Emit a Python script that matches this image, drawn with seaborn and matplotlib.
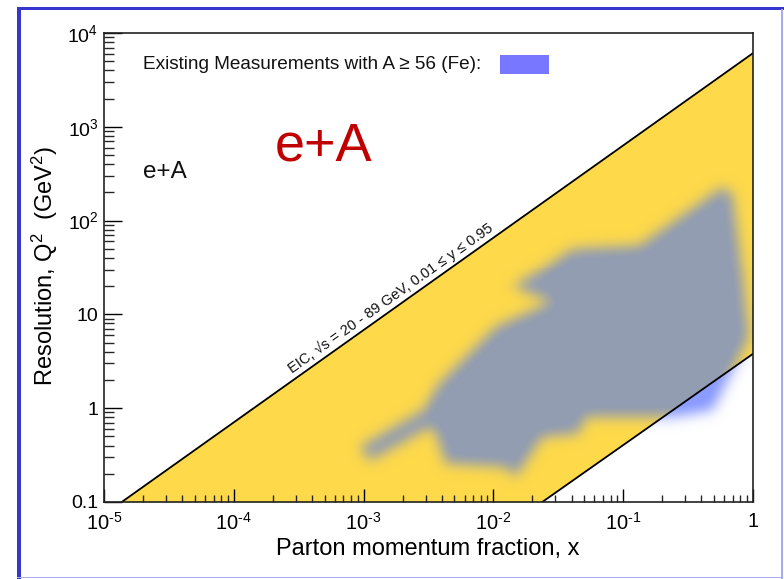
import numpy as np
import pandas as pd
import matplotlib
matplotlib.use("Agg")
import matplotlib.pyplot as plt
from matplotlib.path import Path
from matplotlib.patches import Rectangle
from matplotlib.ticker import FixedLocator, FixedFormatter, LogLocator, NullFormatter
import seaborn as sns

# ---------------- data ----------------
# kinematic limits of the EIC (Q^2 vs x)
upper_x = [1.37e-5, 1.0]
upper_q2 = [0.1, 6100.0]
lower_x = [0.0238, 1.0]
lower_q2 = [0.1, 3.8]

# outline of existing e+A (A >= 56) measurements, in (x, Q^2)
meas_x = [9.3e-4, 2.86e-3, 3.85e-3, 1.05e-2, 2.86e-2, 1.41e-2, 2.54e-2, 4.07e-2,
          1.33e-1, 5.81e-1, 6.93e-1, 8.28e-1, 9.31e-1, 6.93e-1, 4.86e-1,
          2.39e-1, 5.16e-2, 4.59e-2, 2.39e-2, 1.49e-2, 1.25e-2, 4.33e-3,
          3.62e-3, 3.22e-3, 1.11e-3]
meas_q2 = [0.385, 0.948, 1.83, 7.35, 13.6, 19.6, 32.1, 50.4,
           54.6, 229.0, 194.5, 29.6, 5.74, 2.53, 0.948,
           0.803, 0.803, 0.535, 0.492, 0.184, 0.236, 0.256,
           0.535, 0.628, 0.277]

xticks = [1e-5, 1e-4, 1e-3, 1e-2, 1e-1, 1]
xticklabels = ["$10^{\\text{-}5}$", "$10^{\\text{-}4}$", "$10^{\\text{-}3}$",
               "$10^{\\text{-}2}$", "$10^{\\text{-}1}$", "1"]
yticks = [0.1, 1, 10, 100, 1000, 10000]
yticklabels = ["0.1", "1", "10", "$10^{2}$", "$10^{3}$", "$10^{4}$"]

# ---------------- style ----------------
sns.set_theme(style="ticks")
plt.rcParams["font.family"] = ["Liberation Sans", "DejaVu Sans"]
plt.rcParams["mathtext.fontset"] = "custom"
plt.rcParams["mathtext.rm"] = "Liberation Sans"
plt.rcParams["mathtext.it"] = "Liberation Sans:italic"
plt.rcParams["mathtext.default"] = "rm"

YELLOW = "#FED94A"
GRAYBLUE = np.array([146, 157, 178]) / 255.0
LIGHTBLUE = np.array([110, 130, 255]) / 255.0

fig = plt.figure(figsize=(7.84, 5.79), dpi=100)
ax = fig.add_axes([104 / 784, 1 - 502 / 579, 649 / 784, 469 / 579])
ax.set_xscale("log")
ax.set_yscale("log")
ax.set_xlim(1e-5, 1)
ax.set_ylim(0.1, 1e4)

# yellow EIC band
band_x = np.concatenate([upper_x, lower_x[::-1]])
band_y = np.concatenate([upper_q2, lower_q2[::-1]])
ax.fill(band_x, band_y, color=YELLOW, lw=0, zorder=1)

# blurred measurement region (raster in log space)
nx, ny = 650, 470
lxe = np.linspace(-5, 0, nx + 1)
lye = np.linspace(-1, 4, ny + 1)
lxc = 0.5 * (lxe[1:] + lxe[:-1])
lyc = 0.5 * (lye[1:] + lye[:-1])
LX, LY = np.meshgrid(lxc, lyc)
poly = Path(np.column_stack([np.log10(meas_x), np.log10(meas_q2)]))
mask = poly.contains_points(np.column_stack([LX.ravel(), LY.ravel()])).reshape(LX.shape).astype(float)

def blur(a, sigma, axis):
    r = int(3 * sigma)
    k = np.exp(-0.5 * (np.arange(-r, r + 1) / sigma) ** 2)
    k /= k.sum()
    return np.apply_along_axis(lambda v: np.convolve(np.pad(v, r, mode="edge"), k, mode="valid"), axis, a)

m = blur(blur(mask, 6.5, 1), 6.5, 0)
m = np.clip(m * 1.05, 0, 1)

up_l = np.interp(LX, np.log10(upper_x), np.log10(upper_q2), left=-9, right=9)
lo_l = np.interp(LX, np.log10(lower_x), np.log10(lower_q2), left=-9, right=9)
inband = (LY <= up_l) & (LY >= lo_l)

rgba = np.zeros(LX.shape + (4,))
rgba[..., :3] = np.where(inband[..., None], GRAYBLUE, LIGHTBLUE)
rgba[..., 3] = np.where(inband, m, 0.8 * m)
ax.pcolormesh(10 ** lxe, 10 ** lye, rgba, shading="flat", zorder=2, rasterized=True)

# boundary lines with seaborn
lines = pd.DataFrame({"x": upper_x + lower_x, "q2": upper_q2 + lower_q2,
                      "which": ["upper"] * 2 + ["lower"] * 2})
sns.lineplot(data=lines, x="x", y="q2", units="which", estimator=None,
             color="black", lw=1.3, ax=ax, zorder=3, legend=False)

# ticks
ax.xaxis.set_major_locator(FixedLocator(xticks))
ax.xaxis.set_major_formatter(FixedFormatter(xticklabels))
ax.yaxis.set_major_locator(FixedLocator(yticks))
ax.yaxis.set_major_formatter(FixedFormatter(yticklabels))
ax.xaxis.set_minor_locator(LogLocator(base=10, subs=np.arange(2, 10), numticks=20))
ax.yaxis.set_minor_locator(LogLocator(base=10, subs=np.arange(2, 10), numticks=20))
ax.xaxis.set_minor_formatter(NullFormatter())
ax.yaxis.set_minor_formatter(NullFormatter())
ax.tick_params(axis="x", which="major", direction="in", length=9.5, width=1.0, pad=7,
               labelsize=14.5, colors="black", top=False)
ax.tick_params(axis="x", which="minor", direction="in", length=5, width=1.0, top=False)
ax.tick_params(axis="y", which="major", direction="in", length=13, width=1.0, pad=4,
               labelsize=14, colors="black", right=False)
ax.tick_params(axis="y", which="minor", direction="in", length=7, width=1.0, right=False)
ax.xaxis.set_zorder(8)
ax.yaxis.set_zorder(8)
for s in ax.spines.values():
    s.set_visible(True)
    s.set_linewidth(1.2)
    s.set_color("#222222")
    s.set_zorder(9)
ax.set_xlabel("")
ax.set_ylabel("")
ax.set_facecolor("white")

# axis titles
fig.text(428 / 784, 1 - 549 / 579, "Parton momentum fraction, x", ha="center", va="center",
         fontsize=17, color="black")
fig.text(45 / 784, 1 - 266 / 579, "Resolution, Q$^{2}$  (GeV$^{2}$)", ha="center", va="center",
         rotation=90, fontsize=17, color="black")

# annotations
ax.text(0.060, 0.932, "Existing Measurements with A \u2265 56 (Fe):", transform=ax.transAxes,
        ha="left", va="center", fontsize=13.7, color="#111111")
ax.add_patch(Rectangle((0.610, 0.913), 0.076, 0.040, transform=ax.transAxes,
                       facecolor="#7777FF", edgecolor="none", zorder=6))
ax.text(0.060, 0.704, "e+A", transform=ax.transAxes, ha="left", va="center",
        fontsize=17.5, color="#111111")
ax.text(0.338, 0.757, "e+A", transform=ax.transAxes, ha="center", va="center",
        fontsize=39, color="#C00000")

# rotated label along the upper line
p1 = ax.transData.transform((upper_x[0], upper_q2[0]))
p2 = ax.transData.transform((upper_x[1], upper_q2[1]))
ang = np.degrees(np.arctan2(p2[1] - p1[1], p2[0] - p1[0]))
lx0 = -2.75
q0 = 10 ** np.interp(lx0, np.log10(upper_x), np.log10(upper_q2))
th = np.radians(ang)
ax.annotate("EIC, \u221As = 20 - 89 GeV, 0.01 \u2264 y \u2264 0.95", xy=(10 ** lx0, q0),
            xytext=(-2.0 * np.sin(th), 2.0 * np.cos(th)), textcoords="offset points",
            rotation=ang, rotation_mode="anchor", ha="center", va="bottom",
            fontsize=10.5, color="#111111", zorder=7)

# blue frame around the slide figure
fig.add_artist(Rectangle((17 / 784, 0), 4 / 784, 1 - 7 / 579, transform=fig.transFigure,
                         facecolor="#3535CF", edgecolor="none"))
fig.add_artist(Rectangle((17 / 784, 1 - 10 / 579), 767 / 784, 3 / 579, transform=fig.transFigure,
                         facecolor="#3535CF", edgecolor="none"))
fig.add_artist(Rectangle((781 / 784, 0), 1.5 / 784, 1 - 9 / 579, transform=fig.transFigure,
                         facecolor="#A8ADEE", edgecolor="none"))
fig.add_artist(Rectangle((17 / 784, 1 / 579), 765 / 784, 1.5 / 579, transform=fig.transFigure,
                         facecolor="#A8ADEE", edgecolor="none"))

fig.savefig("out.png", dpi=100)
